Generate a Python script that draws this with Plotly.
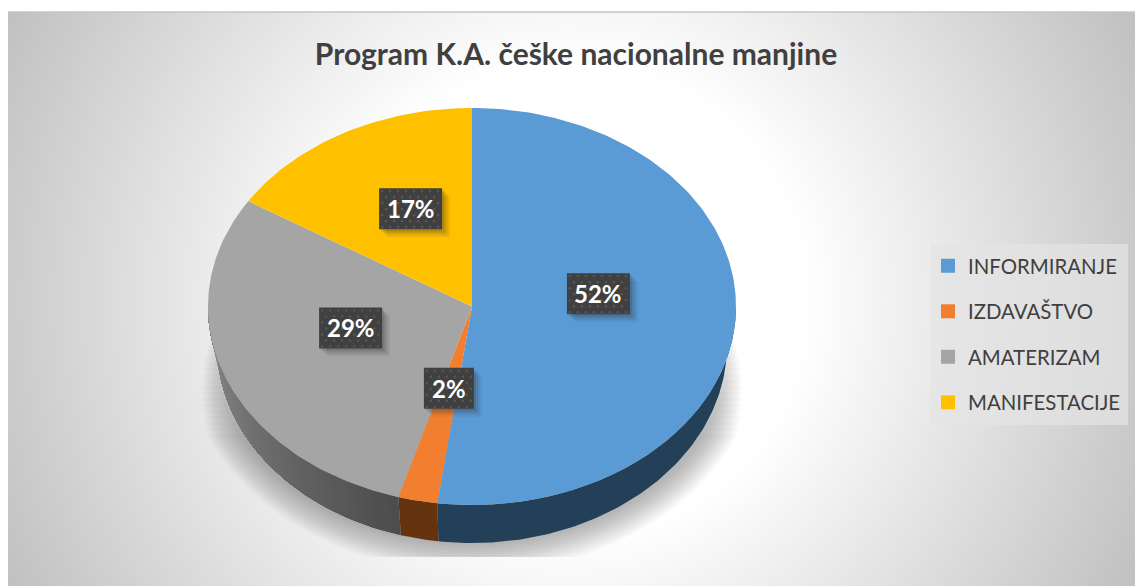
import numpy as np
import plotly.graph_objects as go

categories = ["INFORMIRANJE", "IZDAVAŠTVO", "AMATERIZAM", "MANIFESTACIJE"]
values = [52.1, 2.4, 29.4, 16.1]
pct_labels = ["52%", "2%", "29%", "17%"]
top_colors = ["#5b9bd5", "#f27f30", "#a5a5a5", "#ffc000"]
side_from = ["#234058", "#65340f", "#4c4c4c", "#8a5f00"]
side_to = ["#234058", "#65340f", "#8c8c8c", "#8a5f00"]
title_text = "Program K.A. češke nacionalne manjine"

W, H = 1135, 586
CX, CY, RX, RY = 472, 306.5, 264, 198.5
BY, BRX, BRY = 345, 255, 198
LABEL_NUDGE = [(0, -4.5), (3, 3), (-3, 2), (0, 0)]


def top_pt(t):
    return CX + RX * np.sin(t), CY - RY * np.cos(t)


def bot_pt(t):
    return CX + BRX * np.sin(t), BY - BRY * np.cos(t)


def mix(a, b, f):
    ca = [int(a[i:i + 2], 16) for i in (1, 3, 5)]
    cb = [int(b[i:i + 2], 16) for i in (1, 3, 5)]
    return "rgb(%d,%d,%d)" % tuple(round(p + (q - p) * f) for p, q in zip(ca, cb))


def poly(x, y, color, **kw):
    return go.Scatter(x=list(x), y=list(y), mode="lines", fill="toself", fillcolor=color,
                      line=dict(width=0, color=color), showlegend=False, hoverinfo="skip", **kw)


fig = go.Figure()

# background gradient (cells are centred on the grid, so start half a cell inside)
step = 8
gx = np.arange(8 + step / 2, W + step, step)
gy = np.arange(12 + step / 2, H + step, step)
xx, yy = np.meshgrid(gx, gy)
rr = np.hypot(xx - 570, yy - 300)
zz = 255 - 0.158 * np.clip(rr - 235, 0, None)
fig.add_trace(go.Heatmap(x=gx, y=gy, z=zz, zmin=0, zmax=255, zsmooth="best", showscale=False,
                         colorscale=[[0, "#000000"], [1, "#ffffff"]], hoverinfo="skip"))

# soft cast shadow
phi = np.linspace(0, 2 * np.pi, 240)
for k in np.arange(0, 30, 1.5):
    sx = CX + (RX + k - 6) * np.sin(phi)
    sy = np.clip(BY + 5 + (RY + k - 4) * -np.cos(phi), 320 + 4 * k, 557)
    fig.add_trace(poly(sx, sy, "rgba(60,60,60,0.021)"))

# slices
fracs = np.array(values) / sum(values)
edges = np.concatenate([[0], np.cumsum(fracs)]) * 2 * np.pi

# side wall, only the front half of the disc is visible.
# Each strip runs to the far end of its slice and the next one paints over it, which avoids seams.
for i in range(len(values)):
    a, b = max(edges[i], np.pi / 2), min(edges[i + 1], 3 * np.pi / 2)
    if b <= a:
        continue
    n = 1 if side_from[i] == side_to[i] else max(1, int((b - a) / np.radians(2)))
    st = np.linspace(a, b, n + 1)
    for j in range(n):
        ts = np.linspace(st[j], b, max(3, int(np.degrees(b - st[j])) + 1))
        tx, ty = top_pt(ts)
        bx, by = bot_pt(ts[::-1])
        f = (j + 0.5) / n
        fig.add_trace(poly(np.r_[tx, bx], np.r_[ty, by], mix(side_from[i], side_to[i], f)))

for i, cat in enumerate(categories):
    ts = np.linspace(edges[i], edges[i + 1], max(3, int(np.degrees(edges[i + 1] - edges[i])) + 1))
    tx, ty = top_pt(ts)
    fig.add_trace(go.Scatter(x=np.r_[CX, tx, CX].tolist(), y=np.r_[CY, ty, CY].tolist(), mode="lines",
                             fill="toself", fillcolor=top_colors[i], line=dict(width=0, color=top_colors[i]),
                             showlegend=False, name=cat, hoverinfo="name"))

# legend entries
for i, cat in enumerate(categories):
    fig.add_trace(go.Scatter(x=[None], y=[None], mode="markers", name=cat, legendgroup=cat,
                             marker=dict(symbol="square", size=14, color=top_colors[i])))

# data labels
box_h = 41
annotations = []
for i, lab in enumerate(pct_labels):
    mid = (edges[i] + edges[i + 1]) / 2
    lx = CX + 0.48 * RX * np.sin(mid) + LABEL_NUDGE[i][0]
    ly = 292 - 0.48 * RY * np.cos(mid) + LABEL_NUDGE[i][1]
    box_w = 50 if len(lab) == 2 else 63
    x0, x1, y0, y1 = lx - box_w / 2, lx + box_w / 2, ly - box_h / 2, ly + box_h / 2
    for s, al in ((8, 0.07), (6, 0.09), (4, 0.12), (2, 0.14)):
        fig.add_trace(poly([x0 + s, x1 + s, x1 + s, x0 + s, x0 + s], [y0 + s, y0 + s, y1 + s, y1 + s, y0 + s],
                           "rgba(40,40,40,%.2f)" % al))
    fig.add_trace(poly([x0, x1, x1, x0, x0], [y0, y0, y1, y1, y0], "#404040"))
    dots_x, dots_y = [], []
    for r, dy in enumerate(np.arange(y0 + 3, y1, 6)):
        off = 4 if r % 2 else 0
        for dx in np.arange(x0 + 3 + off, x1 - 1, 8):
            dots_x.append(dx)
            dots_y.append(dy)
    fig.add_trace(go.Scatter(x=dots_x, y=dots_y, mode="markers", showlegend=False, hoverinfo="skip",
                             marker=dict(size=2.6, color="#555555", line=dict(width=0))))
    annotations.append(dict(x=lx, y=ly, xref="x", yref="y", text="<b>%s</b>" % lab, showarrow=False,
                            font=dict(family="Lato", size=24, color="#ffffff")))

fig.update_layout(
    width=W, height=H, margin=dict(l=0, r=0, t=0, b=0), paper_bgcolor="#ffffff", plot_bgcolor="#ffffff",
    xaxis=dict(range=[0, W], visible=False, fixedrange=True, domain=[0, 1]),
    yaxis=dict(range=[H, 0], visible=False, fixedrange=True, domain=[0, 1]),
    title=dict(text="<b>%s</b>" % title_text, x=576 / W, xanchor="center", y=1 - 54 / H, yanchor="middle",
               yref="container", font=dict(family="Lato", size=30, color="#404040")),
    legend=dict(x=928 / W, xanchor="left", y=1 - 246 / H, yanchor="top", bgcolor="rgba(0,0,0,0)",
                tracegroupgap=16, font=dict(family="Lato", size=20.4, color="#404040"),
                itemclick=False, itemdoubleclick=False, itemwidth=30),
    annotations=annotations,
    shapes=[
        dict(type="rect", x0=931, x1=1128, y0=244, y1=425, xref="x", yref="y", layer="above",
             fillcolor="rgba(228,228,228,0.7)", line=dict(width=0)),
        dict(type="line", x0=8, x1=W, y0=12, y1=12, xref="x", yref="y", layer="above",
             line=dict(width=1.5, color="#c4c4c4")),
    ],
)

fig.write_html("out.html", config=dict(displayModeBar=False),
               post_script="document.body.style.margin='0';document.body.style.overflow='hidden';")
